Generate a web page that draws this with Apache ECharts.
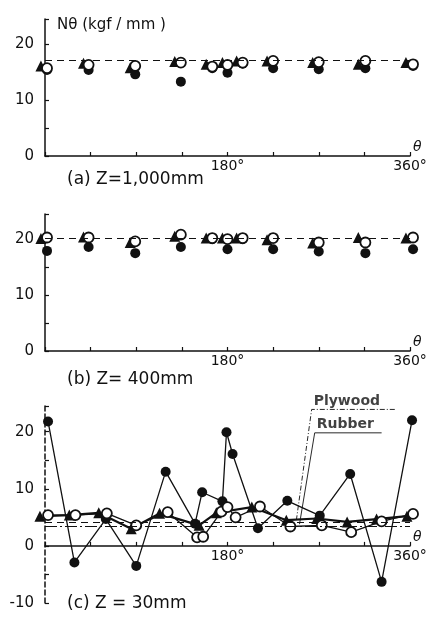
<!DOCTYPE html>
<html>
<head>
<meta charset="utf-8">
<script src="https://cdn.jsdelivr.net/npm/echarts@6/dist/echarts.min.js"></script>
<style>
  html, body { margin: 0; padding: 0; background: #fff; }
  #chart { width: 441px; height: 623px; }
</style>
</head>
<body>
<div id="chart"></div>
<script>
var chart = echarts.init(document.getElementById('chart'));

// θ positions of the marks (triangles sit a little left)
var angTri  = [-4, 38, 84, 128, 159, 175, 189, 219, 264, 309, 356];
var angCirc = [2, 43, 89, 134, 165, 180, 195, 225, 270, 316, 363];

// (a) Z = 1,000mm
var aTri    = [16.1, 16.6, 15.8, 16.9, 16.4, 16.7, 17.0, 17.0, 16.7, 16.4, 16.7];
var aOpen   = [15.7, 16.3, 16.1, 16.7, 16.0, 16.3, 16.7, 17.0, 16.8, 17.0, 16.4];
var aFilled = [15.4, 15.4, 14.6, 13.3, 15.7, 14.9, 16.5, 15.7, 15.5, 15.7, 16.1];
var aMean = 17.1;

// (b) Z = 400mm
var bTri    = [20.1, 20.4, 19.4, 20.5, 20.2, 20.2, 20.2, 19.9, 19.3, 20.3, 20.2];
var bOpen   = [20.3, 20.3, 19.6, 20.8, 20.2, 20.0, 20.2, 20.2, 19.4, 19.4, 20.3];
var bFilled = [17.9, 18.6, 17.5, 18.6, 20.0, 18.2, 20.0, 18.2, 17.8, 17.5, 18.2];
var bMean = 20.2;

// (c) Z = 30mm
var cFilledAng = [3, 29, 60, 90, 119, 148, 155, 175, 179, 185, 210, 239, 271, 301, 332, 362];
var cFilled    = [21.8, -2.9, 4.7, -3.5, 13.0, 3.9, 9.4, 7.8, 19.9, 16.1, 3.1, 7.9, 5.3, 12.6, -6.3, 22.0];
var cOpenAng   = [3, 30, 61, 90, 121, 150, 156, 174, 180, 188, 212, 242, 273, 302, 332, 363];
var cOpen      = [5.4, 5.4, 5.7, 3.6, 5.9, 1.5, 1.6, 6.0, 6.8, 5.0, 6.9, 3.4, 3.6, 2.4, 4.3, 5.6];
var cTriAng    = [-5, 24, 53, 85, 113, 152, 169, 204, 238, 268, 298, 327, 357];
var cTri       = [5.2, 5.4, 5.8, 3.0, 5.7, 3.6, 5.8, 6.8, 4.5, 4.8, 4.2, 4.7, 5.2];
var cPlywood = 4.2;
var cRubber = 3.4;

// leader lines of the Plywood / Rubber notes (θ, value)
var plyLeader = [[345, 23.9], [263, 23.9], [248, 4.6]];
var rubLeader = [[332, 19.8], [266, 19.8], [251, 3.8]];
var notes = [['Plywood', 265, 25.4], ['Rubber', 268, 21.3]];

var ink = '#111';
var font = 'DejaVu Sans';
var yMax = 24.5;
var cMin = -10;
var cHeight = 197;

function zip(xs, ys) {
    var out = [];
    for (var i = 0; i < xs.length; i++) out.push([xs[i], ys[i]]);
    return out;
}

function xAx(i, offset) {
    return {
        type: 'value', gridIndex: i, min: 0, max: 360, interval: 45,
        position: 'bottom', offset: offset || 0,
        name: 'θ', nameLocation: 'end', nameGap: 3, nameMoveOverlap: false,
        nameTextStyle: { color: ink, fontFamily: font, fontSize: 14, fontStyle: 'italic',
                         verticalAlign: 'bottom', padding: [0, 0, 2, 0] },
        axisLine: { onZero: false, lineStyle: { color: ink, width: 1.5 } },
        axisTick: { inside: true, length: 4, lineStyle: { color: ink, width: 1.2 } },
        axisLabel: {
            color: ink, fontFamily: font, fontSize: 14, margin: 3,
            formatter: function (v) { return (v === 180 || v === 360) ? v + '°' : ''; }
        },
        splitLine: { show: false }
    };
}

function yAx(i, min, dashed) {
    return {
        type: 'value', gridIndex: i, min: min, max: yMax, interval: 5,
        axisLine: { lineStyle: { color: ink, width: 1.5, type: dashed ? [5, 3] : 'solid' } },
        axisTick: { inside: true, length: 4, lineStyle: { color: ink, width: 1.2 } },
        axisLabel: {
            color: ink, fontFamily: font, fontSize: 15, margin: 11,
            formatter: function (v) { return v % 10 === 0 ? String(v) : ''; }
        },
        splitLine: { show: false }
    };
}

function marks(i, tri, open, filled, mean) {
    return [
        { type: 'scatter', xAxisIndex: i, yAxisIndex: i, clip: false, symbol: 'circle', symbolSize: 10,
          itemStyle: { color: ink, opacity: 1 }, data: zip(angCirc, filled), z: 2 },
        { type: 'scatter', xAxisIndex: i, yAxisIndex: i, clip: false, symbol: 'triangle', symbolSize: 11,
          itemStyle: { color: ink, opacity: 1 }, data: zip(angTri, tri), z: 3 },
        { type: 'scatter', xAxisIndex: i, yAxisIndex: i, clip: false, symbol: 'circle', symbolSize: 10,
          itemStyle: { color: '#fff', borderColor: ink, borderWidth: 1.8, opacity: 1 },
          data: zip(angCirc, open), z: 4,
          markLine: { silent: true, symbol: 'none', label: { show: false },
                      lineStyle: { color: ink, width: 1.2, type: [7, 5] }, data: [{ yAxis: mean }] } }
    ];
}

var series = [].concat(
    marks(0, aTri, aOpen, aFilled, aMean),
    marks(1, bTri, bOpen, bFilled, bMean),
    [
        { type: 'line', xAxisIndex: 2, yAxisIndex: 2, clip: false, symbol: 'circle', symbolSize: 10,
          showAllSymbol: true, lineStyle: { color: ink, width: 1.3 }, itemStyle: { color: ink },
          data: zip(cFilledAng, cFilled), z: 2,
          markLine: { silent: true, symbol: 'none', label: { show: false },
                      data: [
                          { yAxis: cPlywood, lineStyle: { color: ink, width: 1.2, type: [7, 5] } },
                          { yAxis: cRubber, lineStyle: { color: ink, width: 1.2, type: [12, 3, 2, 3] } }
                      ] } },
        { type: 'line', xAxisIndex: 2, yAxisIndex: 2, clip: false, symbol: 'triangle', symbolSize: 11,
          showAllSymbol: true, lineStyle: { color: ink, width: 2.2 }, itemStyle: { color: ink },
          data: zip(cTriAng, cTri), z: 3 },
        { type: 'line', xAxisIndex: 2, yAxisIndex: 2, clip: false, symbol: 'circle', symbolSize: 10,
          showAllSymbol: true, lineStyle: { color: ink, width: 1.3 },
          itemStyle: { color: '#fff', borderColor: ink, borderWidth: 1.8 },
          data: zip(cOpenAng, cOpen), z: 4 },
        { type: 'line', xAxisIndex: 2, yAxisIndex: 2, clip: false, symbol: 'none', silent: true,
          lineStyle: { color: ink, width: 0.9, type: [5, 2, 1, 2] }, data: plyLeader, z: 5 },
        { type: 'line', xAxisIndex: 2, yAxisIndex: 2, clip: false, symbol: 'none', silent: true,
          lineStyle: { color: ink, width: 0.9 }, data: rubLeader, z: 5 },
        { type: 'scatter', xAxisIndex: 2, yAxisIndex: 2, clip: false, symbolSize: 0, silent: true,
          data: notes.map(function (n) { return { name: n[0], value: [n[1], n[2]] }; }),
          label: { show: true, position: 'right', distance: 0, formatter: '{b}',
                   color: ink, fontFamily: font, fontSize: 14, fontWeight: 'bold' }, z: 6 }
    ]
);

var titleStyle = { color: ink, fontFamily: font, fontSize: 17, fontWeight: 'normal' };

// panel (c): the θ axis sits on the zero line
var cZeroOffset = -(0 - cMin) / (yMax - cMin) * cHeight;

option = {
    animation: false,
    backgroundColor: '#fff',
    title: [
        { text: '(a) Z=1,000mm', left: 62, top: 166, textStyle: titleStyle },
        { text: '(b) Z= 400mm', left: 62, top: 366, textStyle: titleStyle },
        { text: '(c) Z = 30mm', left: 62, top: 590, textStyle: titleStyle }
    ],
    grid: [
        { left: 45, width: 365, top: 19, height: 137 },
        { left: 45, width: 365, top: 214, height: 137 },
        { left: 45, width: 365, top: 406, height: cHeight }
    ],
    xAxis: [xAx(0), xAx(1), xAx(2, cZeroOffset)],
    yAxis: [
        Object.assign(yAx(0, 0, false), {
            name: 'Nθ (kgf / mm )', nameLocation: 'end', nameGap: -14,
            nameTextStyle: { color: ink, fontFamily: font, fontSize: 15, align: 'left', padding: [0, 0, 0, 12] }
        }),
        yAx(1, 0, false),
        yAx(2, cMin, true)
    ],
    series: series
};
chart.setOption(option);
</script>
</body>
</html>
